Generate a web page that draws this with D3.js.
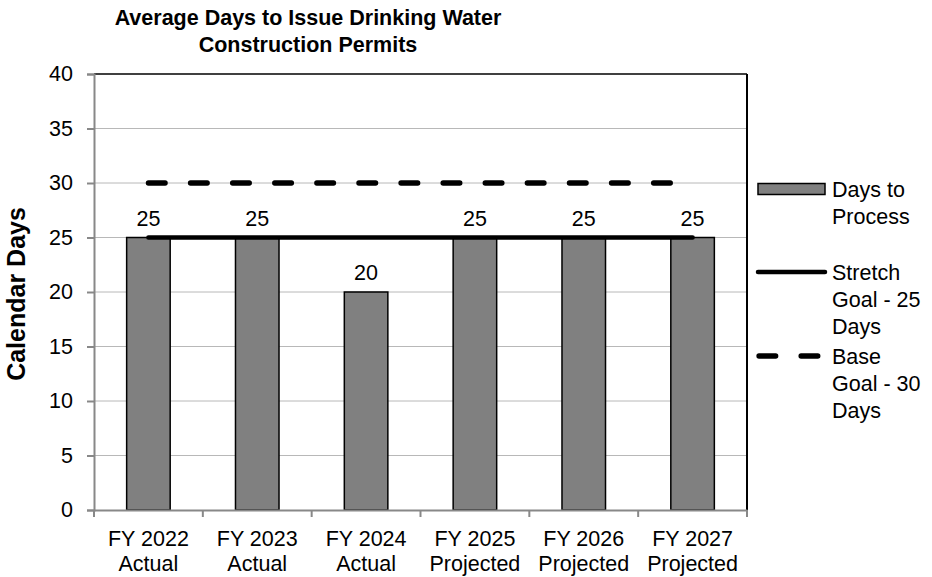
<!DOCTYPE html>
<html>
<head>
<meta charset="utf-8">
<script src="https://cdn.jsdelivr.net/npm/d3@7"></script>
<style>
  html, body { margin: 0; padding: 0; background: #fff; }
  text { font-family: "Liberation Sans", Arial, sans-serif; fill: #000; }
</style>
</head>
<body>
<svg id="chart" width="932" height="577"></svg>
<script>
// ---- Data ----
const categories = ["FY 2022|Actual", "FY 2023|Actual", "FY 2024|Actual",
                    "FY 2025|Projected", "FY 2026|Projected", "FY 2027|Projected"];
const daysToProcess = [25, 25, 20, 25, 25, 25];
const stretchGoal = [25, 25, 25, 25, 25, 25];
const baseGoal = [30, 30, 30, 30, 30, 30];
const yTicks = [0, 5, 10, 15, 20, 25, 30, 35, 40];
const titleLines = ["Average Days to Issue Drinking Water", "Construction Permits"];
const yAxisTitle = "Calendar Days";
const legendItems = [
  { key: "bar", lines: ["Days to", "Process"] },
  { key: "solid", lines: ["Stretch", "Goal - 25", "Days"] },
  { key: "dash", lines: ["Base", "Goal - 30", "Days"] }
];

// ---- Layout ----
const svg = d3.select("#chart");
const plot = { left: 94, right: 747, top: 74, bottom: 510 };
const FS = 21.5;

const x = d3.scaleBand().domain(categories).range([plot.left, plot.right]).padding(0);
const y = d3.scaleLinear().domain([0, 40]).range([plot.bottom, plot.top]);
const barW = x.bandwidth() * 0.4;
const cx = c => x(c) + x.bandwidth() / 2;

// gridlines
svg.append("g").selectAll("line").data(yTicks.filter(t => t > 0 && t < 40)).join("line")
  .attr("x1", plot.left).attr("x2", plot.right)
  .attr("y1", d => y(d)).attr("y2", d => y(d))
  .attr("stroke", "#b8b8b8").attr("stroke-width", 1);

// top & right border
svg.append("line").attr("x1", plot.left).attr("x2", plot.right)
  .attr("y1", y(40)).attr("y2", y(40)).attr("stroke", "#000").attr("stroke-width", 1.5);
svg.append("line").attr("x1", plot.right).attr("x2", plot.right)
  .attr("y1", y(40)).attr("y2", y(0)).attr("stroke", "#000").attr("stroke-width", 2);

// bars
svg.append("g").selectAll("rect").data(categories).join("rect")
  .attr("x", (c) => cx(c) - barW / 2)
  .attr("y", (c, i) => y(daysToProcess[i]))
  .attr("width", barW)
  .attr("height", (c, i) => y(0) - y(daysToProcess[i]))
  .attr("fill", "#808080").attr("stroke", "#000").attr("stroke-width", 1.5);

// data labels
svg.append("g").selectAll("text").data(categories).join("text")
  .attr("x", c => cx(c))
  .attr("y", (c, i) => y(daysToProcess[i]) - 12)
  .attr("text-anchor", "middle").attr("font-size", FS)
  .text((c, i) => daysToProcess[i]);

// y axis
const yAxis = d3.axisLeft(y).tickValues(yTicks).tickSize(7).tickPadding(14);
const gy = svg.append("g").attr("transform", `translate(${plot.left},0)`).call(yAxis);
gy.select(".domain").attr("stroke", "#888").attr("stroke-width", 2);
gy.selectAll(".tick line").attr("stroke", "#888").attr("stroke-width", 2);
gy.selectAll(".tick text").attr("font-size", FS).attr("font-family", "Liberation Sans, Arial, sans-serif").attr("fill", "#000");

// x axis
const xAxis = d3.axisBottom(x).tickSize(0).tickFormat(() => "");
const gx = svg.append("g").attr("transform", `translate(0,${plot.bottom})`).call(xAxis);
gx.select(".domain").attr("stroke", "#888").attr("stroke-width", 2);
const bounds = categories.map(c => x(c)).concat([x.range()[1]]);
gx.append("g").selectAll("line").data(bounds).join("line")
  .attr("x1", d => d).attr("x2", d => d).attr("y1", 0).attr("y2", 7)
  .attr("stroke", "#888").attr("stroke-width", 2);
const xl = gx.append("g").selectAll("text").data(categories).join("text")
  .attr("x", c => cx(c)).attr("y", 36)
  .attr("text-anchor", "middle").attr("font-size", FS);
xl.each(function(c) {
  const parts = c.split("|");
  d3.select(this).selectAll("tspan").data(parts).join("tspan")
    .attr("x", cx(c)).attr("dy", (d, i) => i === 0 ? 0 : 25).text(d => d);
});

// lines
const lineGen = vals => d3.line().x((d, i) => cx(categories[i])).y(d => y(d))(vals);
svg.append("path").attr("d", lineGen(stretchGoal))
  .attr("fill", "none").attr("stroke", "#000").attr("stroke-width", 4.5).attr("stroke-linecap", "round");
svg.append("path").attr("d", lineGen(baseGoal))
  .attr("fill", "none").attr("stroke", "#000").attr("stroke-width", 5.3)
  .attr("stroke-linecap", "round").attr("stroke-dasharray", "16.7 25.4");

// title
svg.append("g").selectAll("text").data(titleLines).join("text")
  .attr("x", 308).attr("y", (d, i) => 25 + i * 27)
  .attr("text-anchor", "middle").attr("font-size", 21.5).attr("font-weight", "bold")
  .text(d => d);

// y axis title
svg.append("text")
  .attr("transform", `translate(25,${(plot.top + plot.bottom) / 2 + 2}) rotate(-90)`)
  .attr("text-anchor", "middle").attr("font-size", 25).attr("font-weight", "bold")
  .text(yAxisTitle);

// legend
const lg = svg.append("g");
const legendTop = [189, 272, 356];
legendItems.forEach((item, k) => {
  const yc = legendTop[k];
  if (item.key === "bar") {
    lg.append("rect").attr("x", 758).attr("y", yc - 5.5).attr("width", 67).attr("height", 11)
      .attr("fill", "#808080").attr("stroke", "#000").attr("stroke-width", 1.5);
  } else if (item.key === "solid") {
    lg.append("line").attr("x1", 758).attr("x2", 825).attr("y1", yc).attr("y2", yc)
      .attr("stroke", "#000").attr("stroke-width", 4.5).attr("stroke-linecap", "round");
  } else {
    lg.append("line").attr("x1", 759).attr("x2", 825).attr("y1", yc).attr("y2", yc)
      .attr("stroke", "#000").attr("stroke-width", 5.3).attr("stroke-linecap", "round")
      .attr("stroke-dasharray", "16.7 25.4");
  }
  const t = lg.append("text").attr("x", 832).attr("y", yc + 8).attr("font-size", FS);
  t.selectAll("tspan").data(item.lines).join("tspan")
    .attr("x", 832).attr("dy", (d, i) => i === 0 ? 0 : 27).text(d => d);
});
</script>
</body>
</html>
